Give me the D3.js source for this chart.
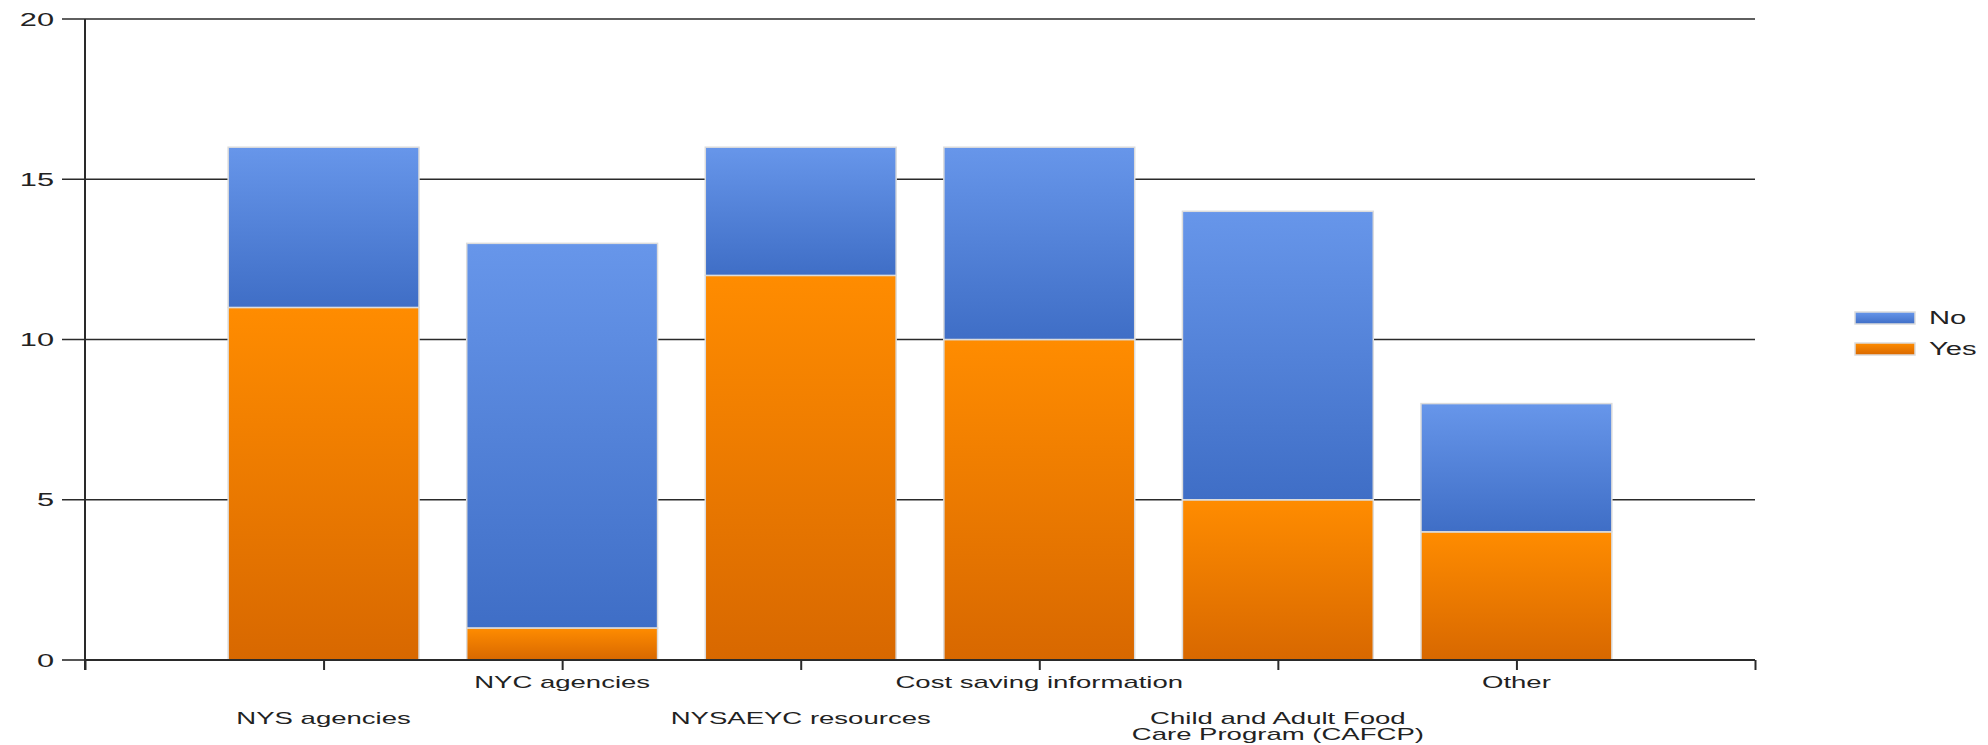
<!DOCTYPE html>
<html><head><meta charset="utf-8">
<script src="https://cdn.jsdelivr.net/npm/d3@7"></script>
<style>html,body{margin:0;padding:0;background:#fff;overflow:hidden}</style>
</head><body>
<svg id="chart" width="1988" height="745"></svg>
<script>
const categories = ["NYS agencies","NYC agencies","NYSAEYC resources","Cost saving information","Child and Adult Food\nCare Program (CAFCP)","Other"];
const yesValues = [11, 1, 12, 10, 5, 4];
const noValues  = [5, 12, 4, 6, 9, 4];
const seriesNames = ["No","Yes"];
const yTicks = [0, 5, 10, 15, 20];

const svg = d3.select("#chart");
const SX = 1.62; // horizontal text stretch to mimic reference
const font = "'Liberation Sans', Arial, sans-serif";
const textColor = "#222";

const x0 = 85, x1 = 1755, yTop = 19, yBot = 660;
const x = d3.scalePoint().domain(["__start", ...categories, "__end"]).range([x0, x1]).padding(0);
const y = d3.scaleLinear().domain([0, 20]).range([yBot, yTop]);
const barW = x.step() * 0.8;

// gradients
const defs = svg.append("defs");
function grad(id, top, bottom) {
  const g = defs.append("linearGradient").attr("id", id).attr("x1", 0).attr("y1", 0).attr("x2", 0).attr("y2", 1);
  g.append("stop").attr("offset", "0%").attr("stop-color", top);
  g.append("stop").attr("offset", "100%").attr("stop-color", bottom);
}
grad("gNo", "#6796EA", "#3F6EC6");
grad("gYes", "#FF8C00", "#D86800");

// gridlines
svg.append("g").selectAll("line").data(yTicks.filter(t => t > 0)).join("line")
  .attr("x1", 62).attr("x2", x1).attr("y1", d => y(d)).attr("y2", d => y(d))
  .attr("stroke", "#2a2a2a").attr("stroke-width", 1.6);

// y tick marks at 0
svg.append("line").attr("x1", 62).attr("x2", x0).attr("y1", y(0)).attr("y2", y(0))
  .attr("stroke", "#2a2a2a").attr("stroke-width", 1.6);

// bars
const stackData = categories.map((c, i) => ({cat: c, Yes: yesValues[i], No: noValues[i]}));
const stack = d3.stack().keys(["Yes", "No"])(stackData);
const fills = {Yes: "url(#gYes)", No: "url(#gNo)"};
svg.append("g").selectAll("g").data(stack).join("g")
  .attr("fill", d => fills[d.key])
  .selectAll("rect").data(d => d).join("rect")
  .attr("x", d => x(d.data.cat) - barW / 2)
  .attr("width", barW)
  .attr("y", d => y(d[1]))
  .attr("height", d => y(d[0]) - y(d[1]))
  .attr("stroke", "#dcdcdc").attr("stroke-width", 1.5);

// x axis
const xAxis = d3.axisBottom(x).tickSize(10).tickFormat("");
const gx = svg.append("g").attr("transform", `translate(0,${yBot})`).call(xAxis);
gx.select(".domain").attr("stroke", "#2a2a2a").attr("stroke-width", 2).attr("d", `M${x0},0H${x1}`);
gx.selectAll(".tick line").attr("stroke", "#2a2a2a").attr("stroke-width", 2);

// y axis line
svg.append("line").attr("x1", x0).attr("x2", x0).attr("y1", yTop).attr("y2", yBot + 10)
  .attr("stroke", "#2a2a2a").attr("stroke-width", 2);

// y tick labels
svg.append("g").selectAll("text").data(yTicks).join("text")
  .attr("transform", d => `translate(54,${y(d)}) scale(${SX},1)`)
  .attr("text-anchor", "end").attr("dominant-baseline", "central")
  .attr("font-family", font).attr("font-size", 19).attr("fill", textColor)
  .text(d => d);

// x labels (staggered)
const xl = svg.append("g").selectAll("text").data(categories).join("text")
  .attr("transform", (d, i) => `translate(${x(d)},${i % 2 === 0 ? 724 : 688}) scale(${SX},1)`)
  .attr("text-anchor", "middle")
  .attr("font-family", font).attr("font-size", 17).attr("fill", textColor);
xl.each(function(d) {
  const lines = d.split("\n");
  d3.select(this).selectAll("tspan").data(lines).join("tspan")
    .attr("x", 0).attr("dy", (l, j) => j === 0 ? 0 : 16).text(l => l);
});

// legend
const leg = svg.append("g");
const legColors = {No: "url(#gNo)", Yes: "url(#gYes)"};
seriesNames.forEach((s, i) => {
  const cy = 318 + i * 31;
  leg.append("rect").attr("x", 1855).attr("y", cy - 6).attr("width", 60).attr("height", 12)
    .attr("fill", legColors[s]).attr("stroke", "#dcdcdc").attr("stroke-width", 1.5);
  leg.append("text").attr("transform", `translate(1929,${cy}) scale(${SX},1)`)
    .attr("dominant-baseline", "central")
    .attr("font-family", font).attr("font-size", 18).attr("fill", textColor).text(s);
});
</script>
</body></html>
